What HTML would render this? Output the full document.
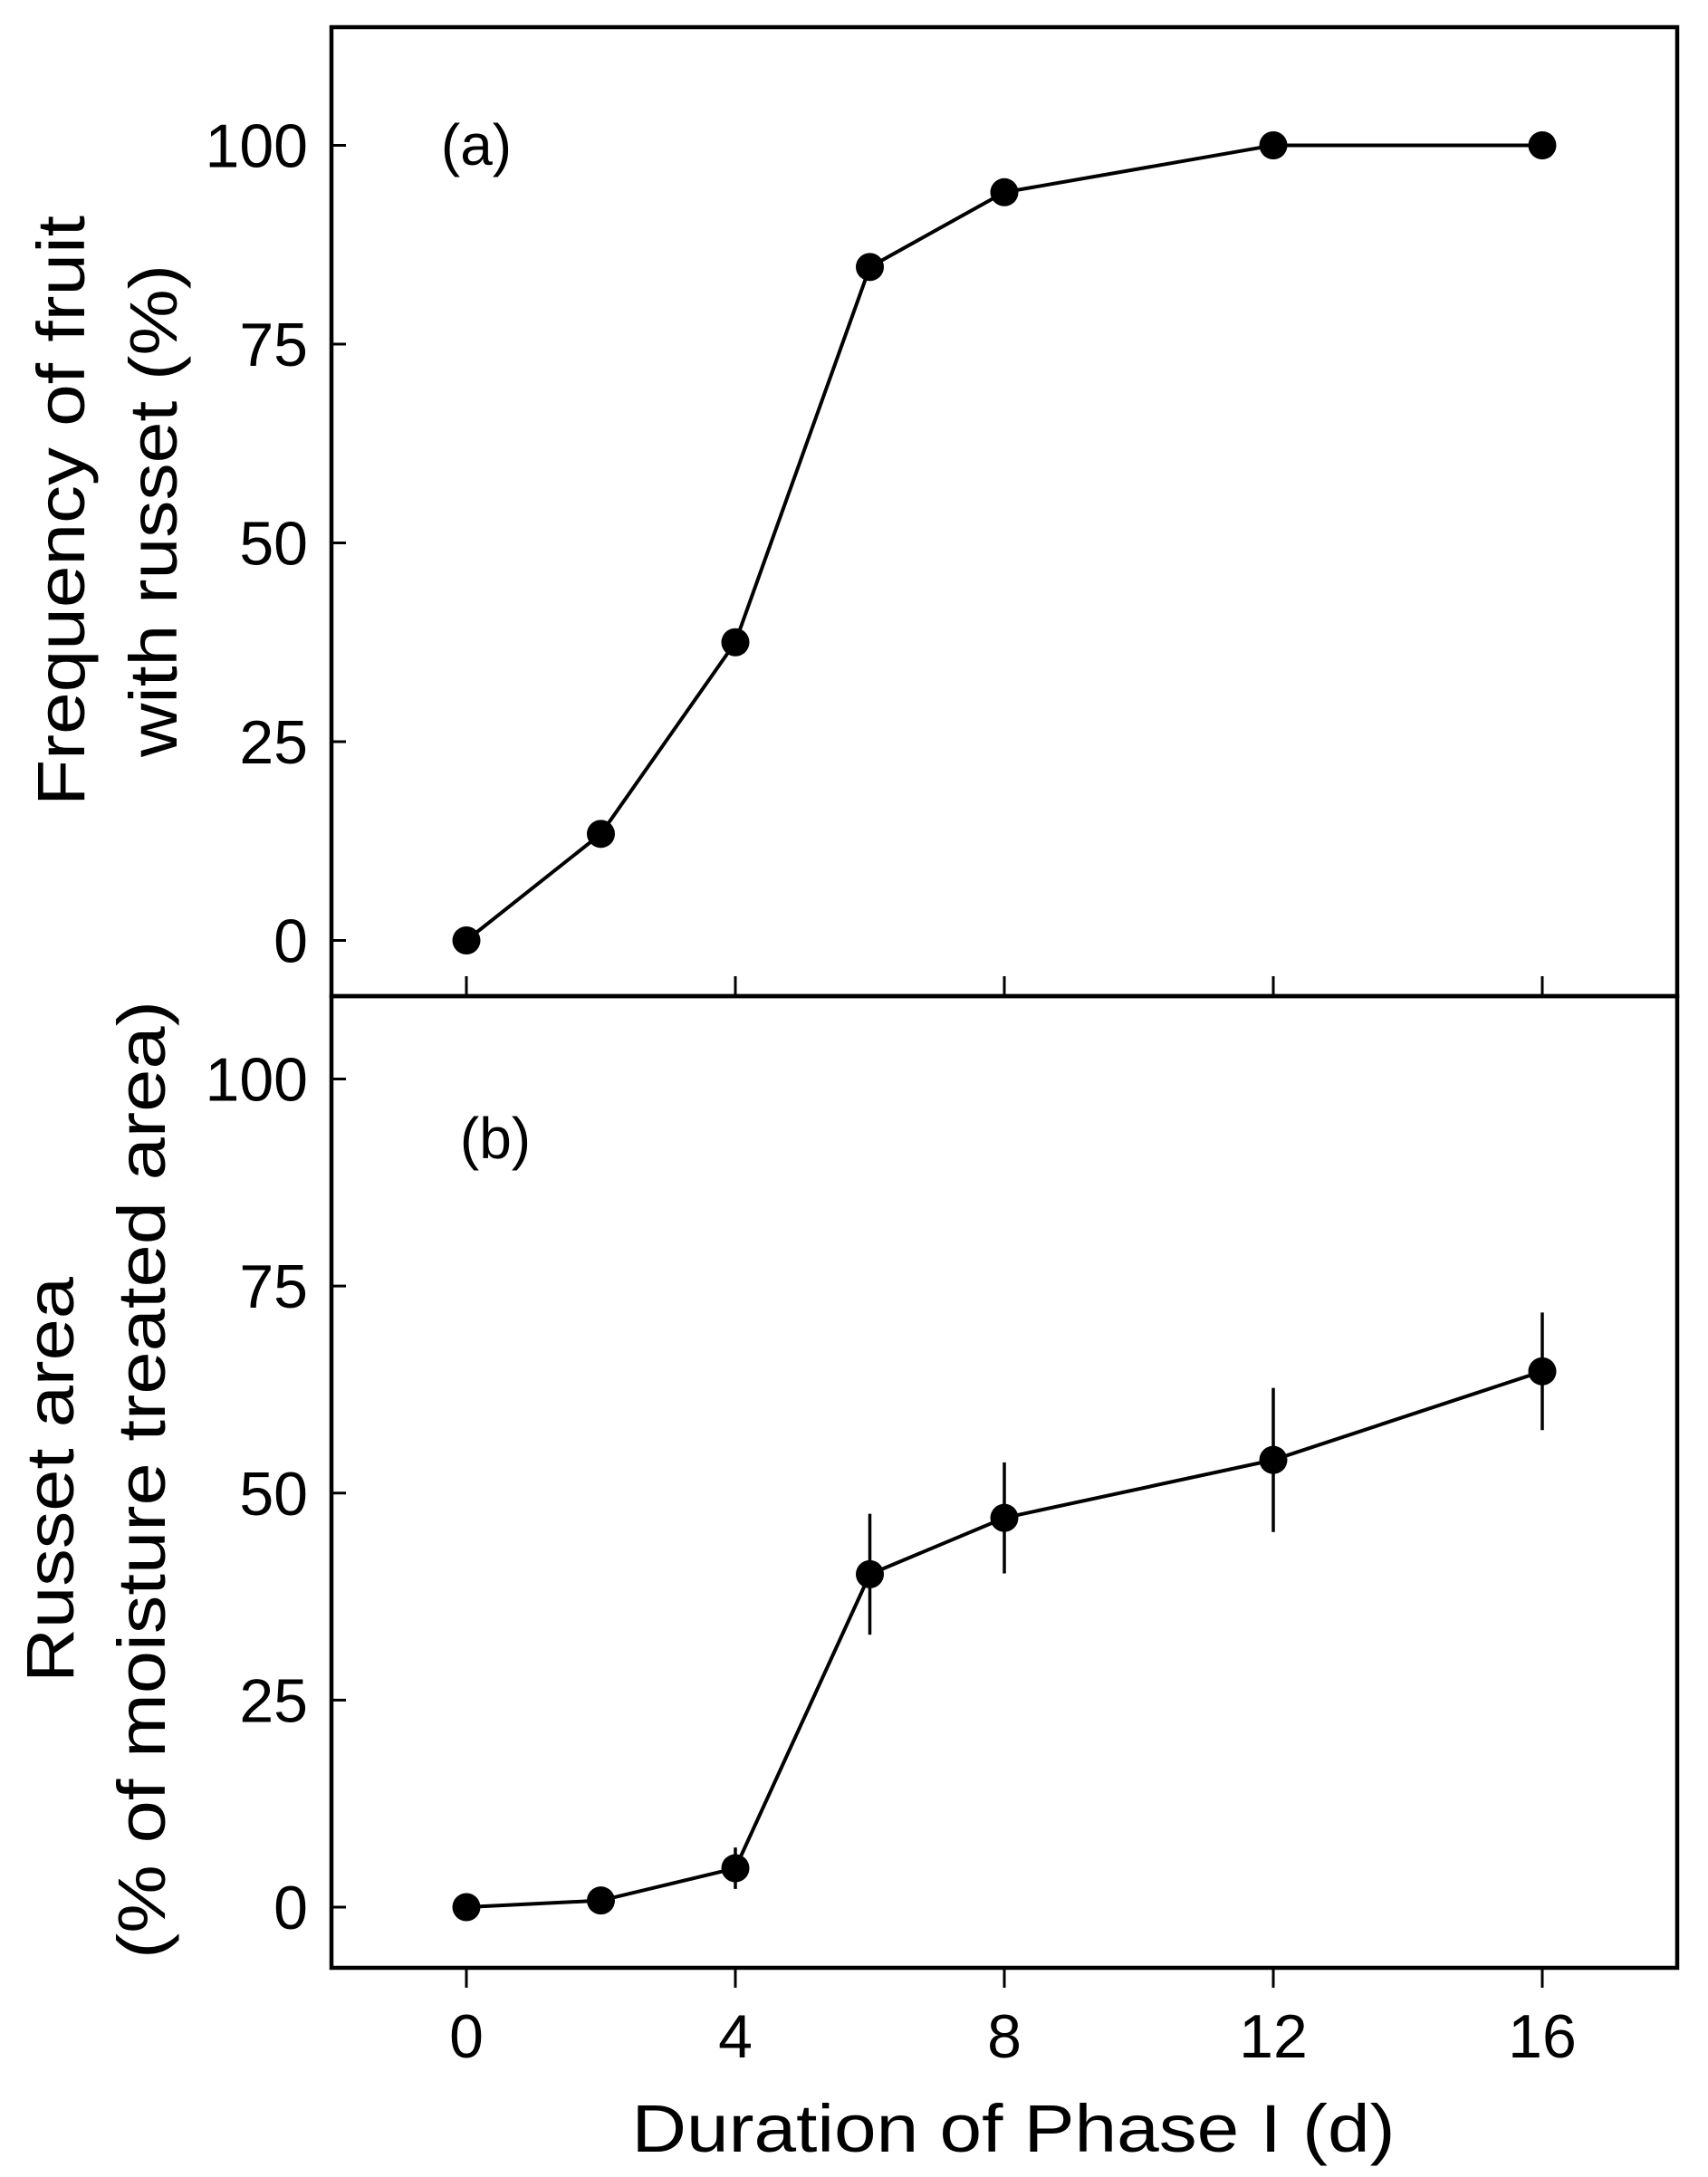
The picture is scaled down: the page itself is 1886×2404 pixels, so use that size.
<!DOCTYPE html>
<html><head><meta charset="utf-8"><style>
html,body{margin:0;padding:0;background:#fff;}
svg{display:block;font-family:"Liberation Sans",Arial,sans-serif;}
</style></head><body>
<svg id="chart" width="1886" height="2404" viewBox="0 0 1886 2404" xmlns="http://www.w3.org/2000/svg">
<g id="frame"></g>
<g id="marks"></g>
<g id="labels"></g>
</svg>
<script>
const days = [0, 2, 4, 6, 8, 12, 16];
const freqValues = [0, 13.4, 37.5, 84.7, 94.1, 100, 100];
const areaValues = [0, 0.8, 4.7, 40.2, 47, 54, 64.7];
const areaErrors = [0, 0, 2.5, 7.3, 6.7, 8.7, 7.1];
const xTicks = [0, 4, 8, 12, 16];
const yTicks = [0, 25, 50, 75, 100];

const NS = "http://www.w3.org/2000/svg";
const L = 366, R = 1852;
const x = v => 515 + v * (1703 - 515) / 16;
const yTop = v => 1038.5 - v * 8.78;
const yBot = v => 2106 - v * 9.145;

function mk(tag, attrs, parent) {
  const e = document.createElementNS(NS, tag);
  for (const k in attrs) e.setAttribute(k, attrs[k]);
  parent.appendChild(e);
  return e;
}
const frame = document.getElementById('frame');
const marks = document.getElementById('marks');
const labels = document.getElementById('labels');

let r1 = mk('rect', {x: L, y: 30, width: R - L, height: 1070, fill: 'none', stroke: '#000', 'stroke-width': 4.5}, frame);


let r2 = mk('rect', {x: L, y: 1100, width: R - L, height: 1073, fill: 'none', stroke: '#000', 'stroke-width': 4.5}, frame);



xTicks.forEach(t => {
  let a = mk('line', {x1: x(t), x2: x(t), y1: 1100, y2: 1078, stroke: '#000', 'stroke-width': 3}, frame);
  
  
  let b = mk('line', {x1: x(t), x2: x(t), y1: 2173, y2: 2195, stroke: '#000', 'stroke-width': 3}, frame);
  
  
  let tl = mk('text', {x: x(t), y: 2272, 'font-size': 68, 'text-anchor': 'middle'}, labels);
  tl.textContent = t;
  
  
});
yTicks.forEach(t => {
  let a = mk('line', {x1: L, x2: L + 16, y1: yTop(t), y2: yTop(t), stroke: '#000', 'stroke-width': 3}, frame);
  
  
  let b = mk('line', {x1: L, x2: L + 16, y1: yBot(t), y2: yBot(t), stroke: '#000', 'stroke-width': 3}, frame);
  
  
  let ta = mk('text', {x: 340, y: yTop(t) + 24, 'font-size': 68, 'text-anchor': 'end'}, labels);
  ta.textContent = t;
  
  
  let tb = mk('text', {x: 340, y: yBot(t) + 24, 'font-size': 68, 'text-anchor': 'end'}, labels);
  tb.textContent = t;
  
  
});

let p1 = mk('polyline', {points: days.map((d, i) => x(d) + ',' + yTop(freqValues[i])).join(' '), fill: 'none', stroke: '#000', 'stroke-width': 4}, marks);


days.forEach((d, i) => {
  let c = mk('circle', {cx: x(d), cy: yTop(freqValues[i]), r: 15.5, fill: '#000'}, marks);
  
  
});

days.forEach((d, i) => {
  if (areaErrors[i] > 0) {
    let e = mk('line', {x1: x(d), x2: x(d), y1: yBot(areaValues[i] + areaErrors[i]), y2: yBot(areaValues[i] - areaErrors[i]), stroke: '#000', 'stroke-width': 3.5}, marks);
    
    
  }
});
let p2 = mk('polyline', {points: days.map((d, i) => x(d) + ',' + yBot(areaValues[i])).join(' '), fill: 'none', stroke: '#000', 'stroke-width': 4}, marks);


days.forEach((d, i) => {
  let c = mk('circle', {cx: x(d), cy: yBot(areaValues[i]), r: 15.5, fill: '#000'}, marks);
  
  
});
</script>
<svg style="position:absolute;left:0;top:0" width="1886" height="2404" xmlns="http://www.w3.org/2000/svg">
<text x="526" y="182" font-size="64" text-anchor="middle">(a)</text>
<text x="547" y="1279" font-size="64" text-anchor="middle">(b)</text>
<text x="1119" y="2376" font-size="74" text-anchor="middle" textLength="843" lengthAdjust="spacingAndGlyphs">Duration of Phase I (d)</text>
<text transform="translate(93,564) rotate(-90)" font-size="74" text-anchor="middle" textLength="652" lengthAdjust="spacingAndGlyphs">Frequency of fruit</text>
<text transform="translate(195,564) rotate(-90)" font-size="74" text-anchor="middle" textLength="544" lengthAdjust="spacingAndGlyphs">with russet (%)</text>
<text transform="translate(81,1634) rotate(-90)" font-size="74" text-anchor="middle" textLength="448" lengthAdjust="spacingAndGlyphs">Russet area</text>
<text transform="translate(182,1634) rotate(-90)" font-size="74" text-anchor="middle" textLength="1058" lengthAdjust="spacingAndGlyphs">(% of moisture treated area)</text>
</svg>
</body></html>
